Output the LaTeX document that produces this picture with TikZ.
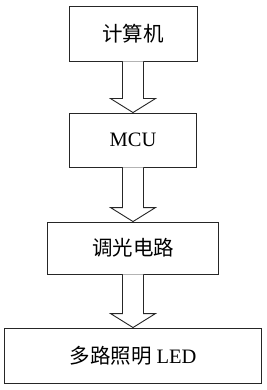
\documentclass[tikz,border=0pt]{standalone}
\usepackage{fontspec}
\setmainfont{Liberation Serif}
\newfontfamily\cjk{Noto Sans CJK SC}
\usetikzlibrary{calc}
\begin{document}
\begin{tikzpicture}[x=1pt,y=-1pt,
  box/.style={draw=black!85,line width=0.9pt,fill=white,inner sep=0pt,
    font=\fontsize{20.5}{24}\selectfont},
  blockarrow/.style={draw=black!85,line width=0.9pt,fill=white,line join=miter}]
\useasboundingbox (0,0) rectangle (266,390);
\node[box,minimum width=128pt,minimum height=55pt] (pc) at (133,33.5) {\cjk 计算机};
\node[box,minimum width=127pt,minimum height=54pt] (mcu) at (133,140) {MCU};
\node[box,minimum width=171pt,minimum height=52pt] (dim) at (133,248) {\cjk 调光电路};
\node[box,minimum width=257pt,minimum height=55pt] (led) at (133,355.5) {{\cjk 多路照明} LED};
\foreach \a/\b in {pc/mcu,mcu/dim,dim/led}{
  \draw[blockarrow] ($(\a.south)+(-10.5,0)$) -- ($(\b.north)+(-10.5,-14)$)
    -- ($(\b.north)+(-22.5,-14)$) -- (\b.north) -- ($(\b.north)+(22.5,-14)$)
    -- ($(\b.north)+(10.5,-14)$) -- ($(\a.south)+(10.5,0)$);
}
\end{tikzpicture}
\end{document}
